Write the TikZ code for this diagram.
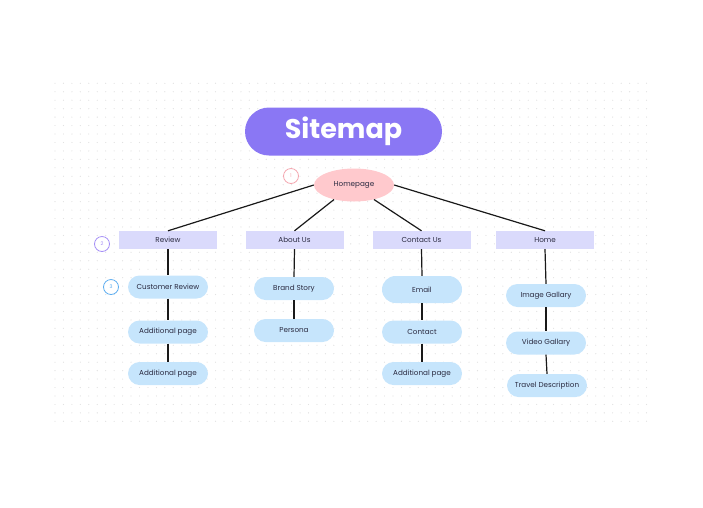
\documentclass[tikz,border=0pt]{standalone}
\usepackage{fontspec}
\setmainfont{Poppins}
\usetikzlibrary{positioning, shapes.geometric}

\definecolor{titlepurple}{HTML}{8A77F4}
\definecolor{rootpink}{HTML}{FFC9CD}
\definecolor{lavender}{HTML}{DADAFC}
\definecolor{skyblue}{HTML}{C6E5FC}
\definecolor{ink}{HTML}{2A2A40}
\definecolor{dotgrey}{HTML}{E2E2E2}
\definecolor{badgepink}{HTML}{F4A7B0}
\definecolor{badgepurple}{HTML}{A690F6}
\definecolor{badgeblue}{HTML}{5FAEF0}

\tikzset{
	level/.style={rectangle, fill=lavender, minimum width=98pt, minimum height=18pt, inner sep=0pt, text=ink, font=\fontsize{7.2}{8}\selectfont},
	pill/.style={rectangle, rounded corners=11.5pt, fill=skyblue, minimum width=80pt, minimum height=23pt, inner sep=0pt, text=ink, font=\fontsize{7.2}{8}\selectfont},
	badge/.style={circle, draw, fill=white, line width=0.8pt, minimum size=15pt, inner sep=0pt, font=\fontsize{5}{6}\selectfont},
	link/.style={line width=1.2pt, draw=black!90}
}

\begin{document}
\begin{tikzpicture}[x=1pt, y=-1pt]
	\useasboundingbox (0, 0) rectangle (703, 507);

	% Background dots:
	\foreach \i in {0,...,70}
		\foreach \j in {0,...,40}
			\fill[dotgrey] (55+\i*8.45, 83.3+\j*8.45) circle (0.65pt);

	% Instances/Symbols:
	\node[rectangle, rounded corners=24pt, fill=titlepurple, minimum width=197pt, minimum height=48pt, text=white, font=\fontsize{27}{30}\selectfont\bfseries] (sitemap) at (343.5, 131.5) {Sitemap};

	\node[ellipse, fill=rootpink, minimum width=80pt, minimum height=33pt, inner sep=0pt, text=ink, font=\fontsize{7.2}{8}\selectfont] (homepage) at (354, 185) {Homepage};

	\node[level] (review) at (168, 240) {Review};
	\node[level] (about) at (294.5, 240) {About Us};
	\node[level] (contact) at (421.5, 240) {Contact Us};
	\node[level] (home) at (545, 240) {Home};

	\node[pill] (custreview) at (168, 287) {Customer Review};
	\node[pill] (addpageA) at (168, 332) {Additional page};
	\node[pill] (addpageB) at (168, 373.5) {Additional page};

	\node[pill] (brandstory) at (294, 288.5) {Brand Story};
	\node[pill] (persona) at (294, 330.5) {Persona};

	\node[pill, minimum height=27pt, rounded corners=13.5pt] (email) at (422, 289.5) {Email};
	\node[pill] (contactpage) at (422, 332) {Contact};
	\node[pill] (addpageC) at (422, 373.5) {Additional page};

	\node[pill] (imagegal) at (546, 295.5) {Image Gallary};
	\node[pill] (videogal) at (546, 343) {Video Gallary};
	\node[pill] (traveldesc) at (547, 385.5) {Travel Description};

	% Lines:
	\draw[link] (homepage.west) -- (review.north);
	\draw[link] (homepage.-144) -- (about.north);
	\draw[link] (homepage.-36) -- (contact.north);
	\draw[link] (homepage.east) -- (home.north);

	\draw[link] (review.south) -- (custreview.north);
	\draw[link] (custreview.south) -- (addpageA.north);
	\draw[link] (addpageA.south) -- (addpageB.north);

	\draw[link] (about.south) -- (brandstory.north);
	\draw[link] (brandstory.south) -- (persona.north);

	\draw[link] (contact.south) -- (email.north);
	\draw[link] (email.south) -- (contactpage.north);
	\draw[link] (contactpage.south) -- (addpageC.north);

	\draw[link] (home.south) -- (imagegal.north);
	\draw[link] (imagegal.south) -- (videogal.north);
	\draw[link] (videogal.south) -- (traveldesc.north);

	% Labels:
	\node[badge, draw=badgepink, text=badgepink] (badgeone) at (291, 176) {1};
	\node[badge, draw=badgepurple, text=badgepurple] (badgetwo) at (102, 244) {2};
	\node[badge, draw=badgeblue, text=badgeblue] (badgethree) at (111, 287) {3};

\end{tikzpicture}
\end{document}
